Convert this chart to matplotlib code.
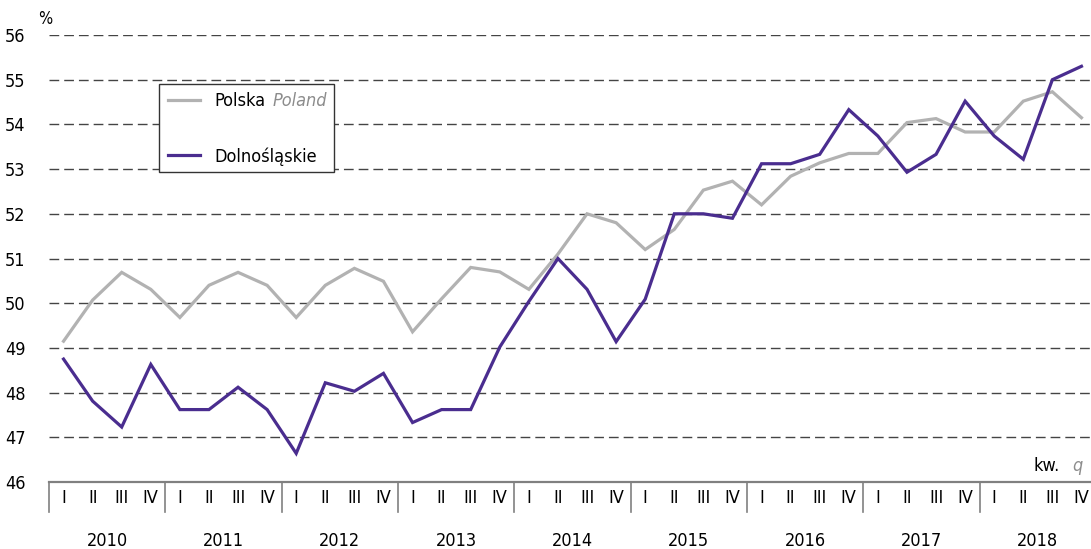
import matplotlib.pyplot as plt
from matplotlib.patches import Rectangle
from matplotlib.lines import Line2D
from matplotlib.transforms import blended_transform_factory

plt.rcParams['font.family'] = ['DejaVu Sans']
plt.rcParams['font.stretch'] = 'condensed'

lata = ["2010", "2011", "2012", "2013", "2014", "2015", "2016", "2017", "2018"]
kwartaly = ["I", "II", "III", "IV"]

polska = [49.15, 50.07, 50.69, 50.31, 49.68, 50.40, 50.69, 50.40,
          49.68, 50.40, 50.78, 50.49, 49.36, 50.10, 50.80, 50.70,
          50.31, 51.10, 52.00, 51.80, 51.20, 51.65, 52.53, 52.73,
          52.20, 52.84, 53.14, 53.35, 53.35, 54.04, 54.13, 53.83,
          53.83, 54.52, 54.73, 54.15]
dolnoslaskie = [48.75, 47.81, 47.23, 48.63, 47.62, 47.62, 48.12, 47.62,
                46.64, 48.22, 48.03, 48.43, 47.33, 47.62, 47.62, 49.02,
                50.04, 51.00, 50.31, 49.14, 50.09, 52.00, 52.00, 51.90,
                53.12, 53.12, 53.33, 54.33, 53.74, 52.93, 53.33, 54.52,
                53.74, 53.22, 55.00, 55.30]

W, H = 1091, 549
fs = 13
fig = plt.figure(figsize=(W / 100, H / 100), dpi=100)
ax = fig.add_axes([49 / W, 67 / H, 1047 / W, 447 / H])

x = list(range(len(polska)))
ax.plot(x, polska, color="#b2b2b2", lw=2.3, solid_joinstyle="miter", zorder=3)
ax.plot(x, dolnoslaskie, color="#4a2d8f", lw=2.3, solid_joinstyle="miter", zorder=4)

ax.set_xlim(-0.5, len(polska) - 0.5)
ax.set_ylim(46, 56)
ax.set_yticks(range(46, 57))
for v in range(47, 57):
    ax.axhline(v, color="#444444", lw=1.0, dashes=(7, 3.6), zorder=1)

for s in ["top", "right", "left"]:
    ax.spines[s].set_visible(False)
ax.spines["bottom"].set_color("#808080")
ax.spines["bottom"].set_linewidth(1.6)
ax.set_xticks([])
ax.tick_params(axis="y", length=0, pad=17, labelsize=fs)

tr = blended_transform_factory(ax.transData, ax.transAxes)
for i in range(len(lata) + 1):
    ax.add_line(Line2D([i * 4 - 0.5] * 2, [0, -0.067], transform=tr,
                       color="#808080", lw=1.2, clip_on=False))
for i, rok in enumerate(lata):
    for j, q in enumerate(kwartaly):
        ax.text(i * 4 + j, -0.036, q, transform=tr, ha="center", va="center", fontsize=fs)
    ax.text(i * 4 + 1.5, -0.132, rok, transform=tr, ha="center", va="center", fontsize=fs)

fig.text(45 / W, 1 - 19 / H, "%", ha="center", va="center", fontsize=12)
fig.text(1060 / W, 1 - 466 / H, "kw.", ha="right", va="center", fontsize=fs)
fig.text(1072 / W, 1 - 466 / H, "q", ha="left", va="center", fontsize=fs,
         style="italic", color="#8c8c8c")

# legenda
fig.patches.append(Rectangle((159 / W, 1 - 172 / H), 175 / W, 88 / H,
                             transform=fig.transFigure, facecolor="white",
                             edgecolor="#333333", lw=1.0, zorder=5))
fig.lines.append(Line2D([168 / W, 200 / W], [1 - 100 / H] * 2, transform=fig.transFigure,
                        color="#b2b2b2", lw=2.3, zorder=6))
fig.lines.append(Line2D([168 / W, 200 / W], [1 - 155 / H] * 2, transform=fig.transFigure,
                        color="#4a2d8f", lw=2.3, zorder=6))
fig.text(214 / W, 1 - 101 / H, "Polska", ha="left", va="center", fontsize=fs, zorder=7)
fig.text(273 / W, 1 - 101 / H, "Poland", ha="left", va="center", fontsize=fs,
         style="italic", color="#8c8c8c", zorder=7)
fig.text(214 / W, 1 - 157 / H, "Dolnośląskie", ha="left", va="center", fontsize=fs, zorder=7)

fig.savefig("out.png", dpi=100)
